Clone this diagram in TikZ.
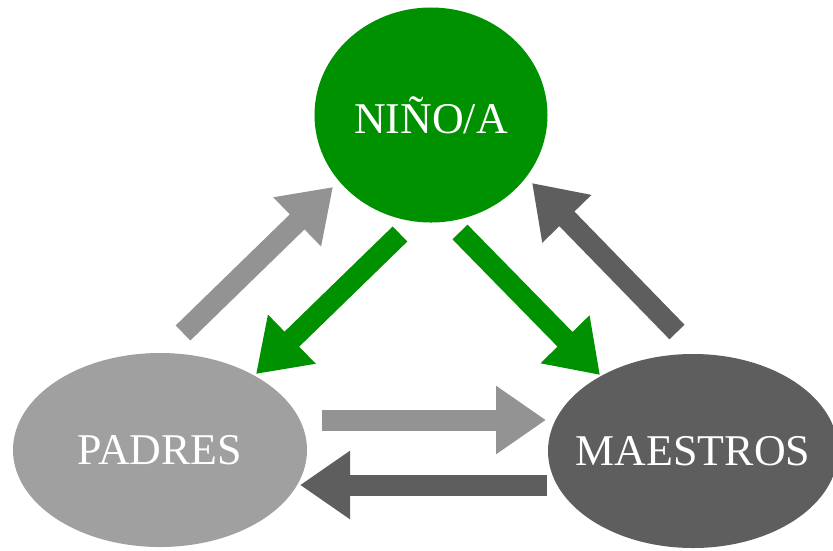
\documentclass[tikz,border=0pt]{standalone}
\usepackage{fontspec}
\setmainfont{Liberation Serif}
\usetikzlibrary{arrows.meta, shapes.geometric}
\definecolor{ninoverde}{RGB}{0,145,0}
\definecolor{grisclaro}{RGB}{160,160,160}
\definecolor{grisflecha}{RGB}{147,147,147}
\definecolor{grisoscuro}{RGB}{94,94,94}

\begin{document}
\begin{tikzpicture}[x=0.03cm, y=-0.03cm,
    actor/.style={ellipse, inner sep=0pt, inner xsep=-0.6cm, text=white, font=\fontsize{37.5}{40}\selectfont},
    flecha/.style={line width=0.63cm, -{Triangle[length=1.5cm, width=1.95cm]}}]
  \useasboundingbox (0,0) rectangle (833,550);
  \clip (0,0) rectangle (833,550);
  \node[actor, fill=ninoverde, minimum width=6.99cm, minimum height=6.45cm] (nino) at (431,115) {NIÑO/A};
  \node[actor, fill=grisclaro, minimum width=8.82cm, minimum height=5.82cm] (padres) at (160,450) {PADRES};
  \node[actor, fill=grisoscuro, minimum width=8.7cm, minimum height=5.82cm] (maestros) at (693,451) {MAESTROS};
  % extremos de las flechas
  \coordinate (pn-a) at (183,333); \coordinate (pn-b) at (333,187);
  \coordinate (np-a) at (400,234); \coordinate (np-b) at (256,374);
  \coordinate (nm-a) at (460,232); \coordinate (nm-b) at (600,375);
  \coordinate (mn-a) at (677,332); \coordinate (mn-b) at (532,183);
  \coordinate (pm-a) at (322,420); \coordinate (pm-b) at (546,420);
  \coordinate (mp-a) at (547,485); \coordinate (mp-b) at (300,485);
  \draw[flecha, grisflecha] (pn-a) -- (pn-b);
  \draw[flecha, ninoverde] (np-a) -- (np-b);
  \draw[flecha, ninoverde] (nm-a) -- (nm-b);
  \draw[flecha, grisoscuro] (mn-a) -- (mn-b);
  \draw[flecha, grisflecha] (pm-a) -- (pm-b);
  \draw[flecha, grisoscuro] (mp-a) -- (mp-b);
\end{tikzpicture}
\end{document}
